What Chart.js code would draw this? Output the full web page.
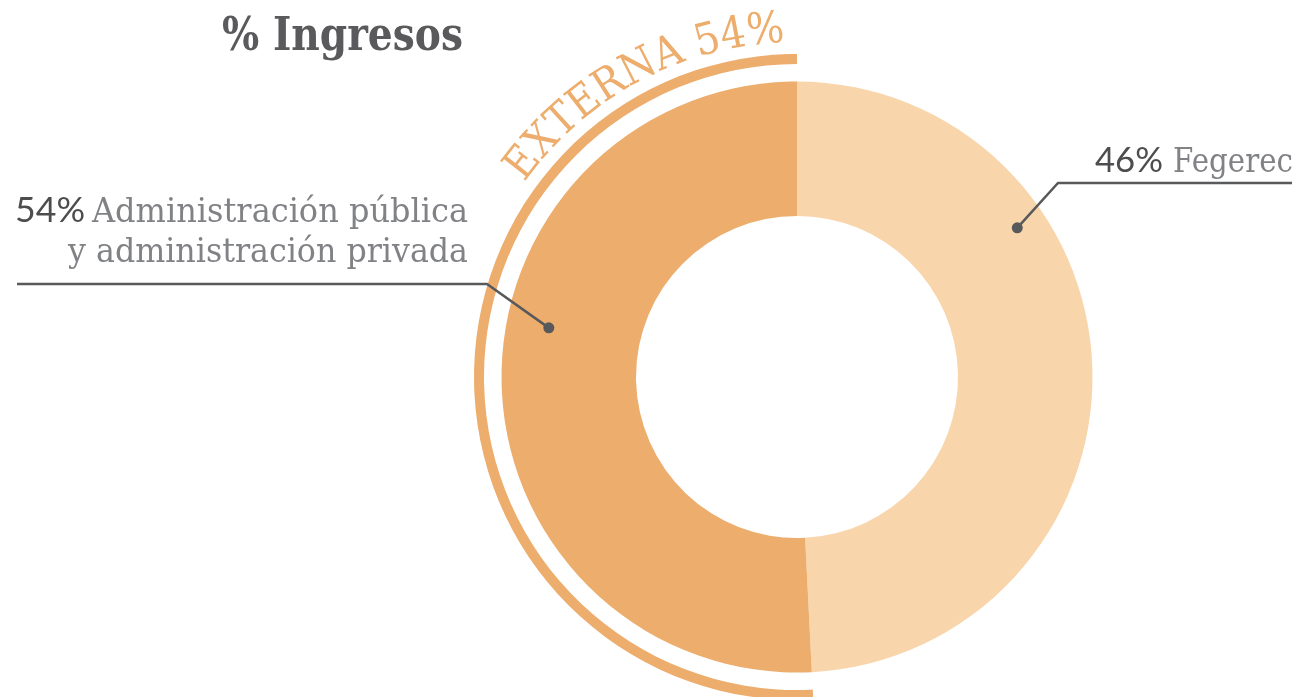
<!DOCTYPE html>
<html lang="es">
<head>
    <meta charset="UTF-8">
    <title>% Ingresos</title>
    <style>
        html, body { margin: 0; padding: 0; background: #fff; overflow: hidden; }
        #wrap { width: 1298px; height: 720px; }
    </style>
</head>
<body>
    <div id="wrap">
        <canvas id="myChart" width="1298" height="720"></canvas>
    </div>

    <script src="https://cdn.jsdelivr.net/npm/chart.js"></script>

    <script>
        // Datos
        const categories = ['Fegerec', 'Administración pública y administración privada'];
        const pctLabels = ['46%', '54%'];
        const sliceValues = [49.2, 50.8];     // tamaño de los sectores tal como se dibujan
        const ringValues = [49.2, 50.8];      // arco exterior "EXTERNA"
        const ringLabel = 'EXTERNA 54%';
        const title = '% Ingresos';

        const light = '#F8D5AB';
        const dark = '#ECAD6D';
        const grey = '#58595B';
        const textGrey = '#818285';

        const ctx = document.getElementById('myChart');

        // dibuja texto ajustado a un ancho
        function fitText(c, text, x, y, width, align) {
            const w = c.measureText(text).width;
            const s = width / w;
            c.save();
            c.translate(x, y);
            c.scale(s, 1);
            c.textAlign = 'left';
            c.fillText(text, align === 'right' ? -w : 0, 0);
            c.restore();
        }

        const extras = {
            id: 'extras',
            afterDraw(chart) {
                const c = chart.ctx;
                const arc = chart.getDatasetMeta(0).data[0];
                const cx = arc.x, cy = arc.y, R = arc.outerRadius;
                c.save();
                c.textBaseline = 'alphabetic';

                // titulo
                c.fillStyle = '#5A5A5C';
                c.font = 'bold 47px "DejaVu Serif"';
                if ('fontStretch' in c) c.fontStretch = 'condensed';
                fitText(c, title, 222, 50, 241, 'left');
                if ('fontStretch' in c) c.fontStretch = 'normal';

                // texto curvo
                c.fillStyle = dark;
                c.font = '44px "DejaVu Serif"';
                const rT = R + 12;
                const a0 = -144.5 * Math.PI / 180, a1 = -92 * Math.PI / 180;
                const total = c.measureText(ringLabel).width;
                const k = (a1 - a0) * rT / total;
                let a = a0;
                for (const ch of ringLabel) {
                    const w = c.measureText(ch).width * k;
                    const mid = a + (w / 2) / rT;
                    c.save();
                    c.translate(cx + rT * Math.cos(mid), cy + rT * Math.sin(mid));
                    c.rotate(mid + Math.PI / 2);
                    c.scale(k, 1);
                    c.textAlign = 'center';
                    c.fillText(ch, 0, 0);
                    c.restore();
                    a += w / rT;
                }

                // etiquetas
                c.fillStyle = '#4D4D4F';
                c.font = '35px Lato';
                fitText(c, pctLabels[1], 15, 222, 70, 'left');
                fitText(c, pctLabels[0], 1095, 172, 68, 'left');
                c.fillStyle = textGrey;
                c.font = '34px "DejaVu Serif"';
                fitText(c, 'Administración pública', 92, 222, 376, 'left');
                fitText(c, 'y administración privada', 468, 262, 400, 'right');
                fitText(c, categories[0], 1173, 172, 120, 'left');

                // lineas guia
                const toRad = Math.PI / 180;
                const dL = { x: cx + 253 * Math.cos(-168.8 * toRad), y: cy + 253 * Math.sin(-168.8 * toRad) };
                const dR = { x: cx + 266 * Math.cos(-34.1 * toRad), y: cy + 266 * Math.sin(-34.1 * toRad) };
                c.strokeStyle = grey;
                c.fillStyle = grey;
                c.lineWidth = 2.5;
                c.beginPath();
                c.moveTo(17, 284); c.lineTo(487, 284); c.lineTo(dL.x, dL.y);
                c.stroke();
                c.beginPath();
                c.moveTo(1292, 183); c.lineTo(1058, 183); c.lineTo(dR.x, dR.y);
                c.stroke();
                [dL, dR].forEach(p => {
                    c.beginPath();
                    c.arc(p.x, p.y, 5.5, 0, Math.PI * 2);
                    c.fill();
                });
                c.restore();
            }
        };

        new Chart(ctx, {
            type: 'doughnut',
            data: {
                labels: categories,
                datasets: [
                    { data: ringValues, backgroundColor: ['rgba(0,0,0,0)', dark], weight: 10 },
                    { data: sliceValues, backgroundColor: ['rgba(0,0,0,0)', 'rgba(0,0,0,0)'], weight: 17.5 },
                    { data: sliceValues, backgroundColor: [light, dark], weight: 134.5 }
                ]
            },
            options: {
                responsive: false,
                devicePixelRatio: 1,
                animation: false,
                cutout: 161,
                borderWidth: 0,
                hoverBorderWidth: 0,
                hoverOffset: 0,
                layout: { padding: { top: 54, bottom: 20, left: 296, right: 0 } },
                plugins: {
                    legend: { display: false },
                    tooltip: { enabled: false }
                },
                events: []
            },
            plugins: [extras]
        });
    </script>
</body>
</html>
